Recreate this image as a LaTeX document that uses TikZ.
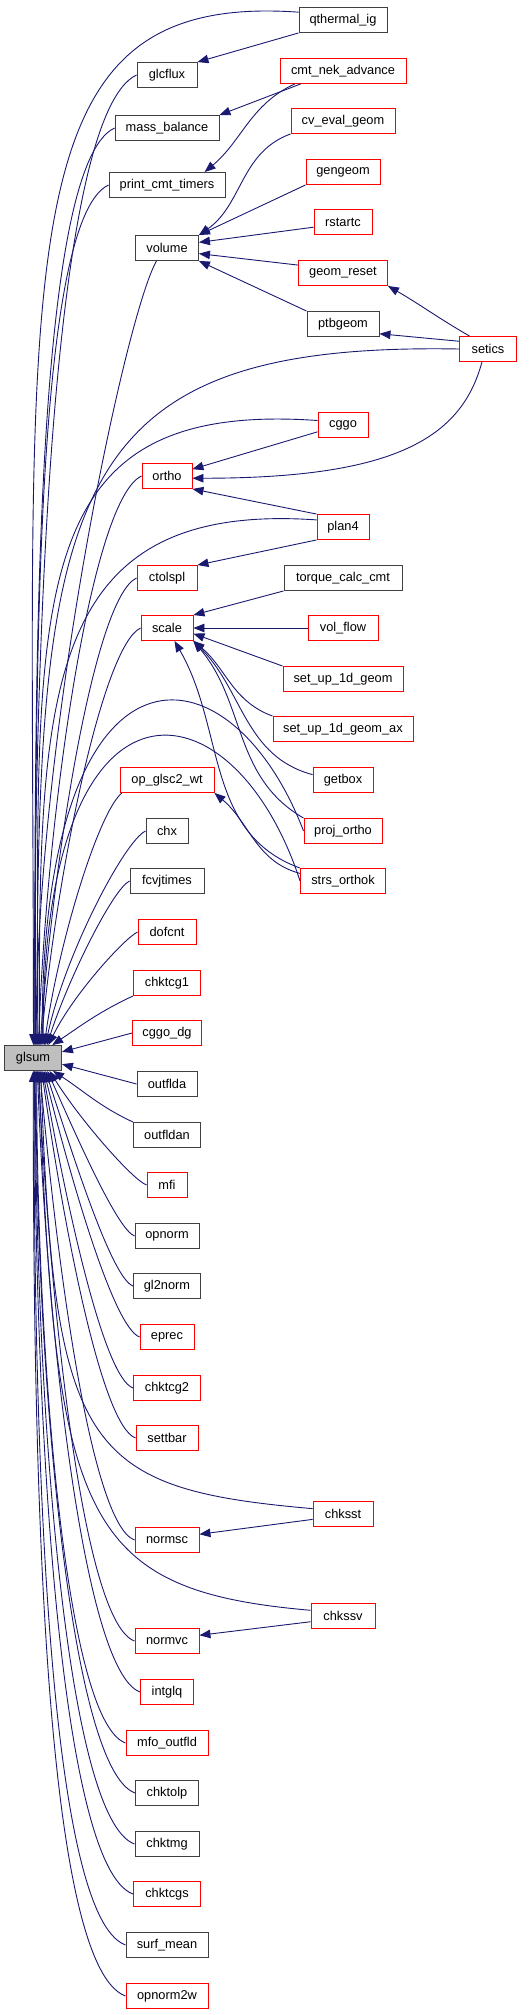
\documentclass[tikz,border=0pt]{standalone}
\usepackage{fontspec}
\setmainfont{Liberation Sans}
\usetikzlibrary{arrows.meta}

\definecolor{setablue}{HTML}{191970}
\definecolor{caixared}{HTML}{FF0000}
\definecolor{caixagray}{HTML}{404040}

\tikzset{
  fnbox/.style={draw=caixagray, fill=white, line width=0.9pt, minimum height=25pt,
    inner sep=0pt, font=\fontsize{12.8}{15}\selectfont},
  call/.style={setablue, line width=0.9pt, -{Triangle[length=11pt,width=8.5pt]}},
}

\begin{document}
\begin{tikzpicture}[x=1pt, y=-1pt]
  \useasboundingbox (0,0) rectangle (531,2015);

  % Funcao analisada
  \node[fnbox, fill=black!25, minimum width=57] (glsum) at (33,1058) {glsum};

  % Coluna da esquerda: nome / texto / y / largura / borda
  \foreach \n/\t/\y/\w/\c in {
    glcflux/glcflux/75/60/caixagray, massbal/mass\_balance/128/104/caixagray,
    printcmt/print\_cmt\_timers/185/116/caixagray, volume/volume/248/63/caixagray,
    ortho/ortho/476/50/caixared, ctolspl/ctolspl/578/60/caixared,
    scale/scale/628/52/caixared, opglsc/op\_glsc2\_wt/780/94/caixared,
    chx/chx/831/42/caixagray, fcvjtimes/fcvjtimes/881/74/caixagray,
    dofcnt/dofcnt/932/58/caixared, chktcga/chktcg1/983/67/caixared,
    cggodg/cggo\_dg/1033/69/caixared, outflda/outflda/1084/60/caixagray,
    outfldan/outfldan/1135/67/caixagray, mfi/mfi/1185/40/caixared,
    opnorm/opnorm/1236/64/caixagray, glnorm/gl2norm/1286/67/caixagray,
    eprec/eprec/1337/54/caixared, chktcgb/chktcg2/1388/67/caixared,
    settbar/settbar/1438/62/caixared, normsc/normsc/1540/64/caixared,
    normvc/normvc/1641/64/caixared, intglq/intglq/1692/53/caixared,
    mfooutfld/mfo\_outfld/1743/82/caixared, chktolp/chktolp/1793/63/caixagray,
    chktmg/chktmg/1844/64/caixagray, chktcgs/chktcgs/1894/67/caixared,
    surfmean/surf\_mean/1945/82/caixagray, opnormw/opnorm2w/1996/82/caixared} {
    \node[fnbox, draw=\c, minimum width=\w] (\n) at (167,\y) {\t};
  }

  % Coluna da direita
  \foreach \n/\t/\y/\w/\c in {
    qthermal/qthermal\_ig/20/88/caixagray, cmtnek/cmt\_nek\_advance/71/126/caixared,
    cveval/cv\_eval\_geom/121/104/caixared, gengeom/gengeom/172/74/caixared,
    rstartc/rstartc/222/58/caixared, geomreset/geom\_reset/273/89/caixared,
    ptbgeom/ptbgeom/324/72/caixagray, cggo/cggo/425/50/caixared,
    plan4/plan4/527/52/caixared, torque/torque\_calc\_cmt/578/118/caixagray,
    volflow/vol\_flow/628/70/caixared, setupgeom/set\_up\_1d\_geom/679/120/caixared,
    setupgeomax/set\_up\_1d\_geom\_ax/729/140/caixared, getbox/getbox/780/60/caixared,
    projortho/proj\_ortho/831/78/caixared, strsorthok/strs\_orthok/881/85/caixared,
    chksst/chksst/1514/60/caixared, chkssv/chkssv/1616/64/caixared} {
    \node[fnbox, draw=\c, minimum width=\w] (\n) at (343,\y) {\t};
  }
  \node[fnbox, draw=caixared, minimum width=57] (setics) at (488,349) {setics};

  % Chamadas a glsum que chegam por cima
  \foreach \n/\a/\i in {glcflux/85/90, massbal/82/90, printcmt/79/90, ortho/67/88,
    ctolspl/61/86, scale/58/85, chx/46/78, fcvjtimes/43/72, dofcnt/40/64} {
    \draw[call] (\n.west) to[out=205, in=\i, out looseness=0.25] (glsum.\a);
  }
  \draw[call] (volume.-129) to[out=240, in=90, out looseness=0.2] (glsum.76);
  \draw[call] (opglsc.-164) to[out=220, in=82, out looseness=0.3] (glsum.49);
  \draw[call] (chktcga.south west) to[out=205, in=34] (glsum.34);
  \draw[call] (cggodg.west) -- (glsum.12);
  \draw[call] (outflda.west) -- (glsum.-12);
  \draw[call] (outfldan.north west) to[out=155, in=-33] (glsum.-33);

  % Chamadas a glsum que chegam por baixo
  \foreach \n/\a/\i in {mfi/-38/-58, opnorm/-42/-66, glnorm/-46/-72, eprec/-50/-76,
    chktcgb/-53/-80, settbar/-56/-82, normsc/-62/-85, normvc/-68/-87, intglq/-71/-88,
    mfooutfld/-74/-90, chktolp/-77/-90, chktmg/-80/-90, chktcgs/-83/-90,
    surfmean/-86/-90, opnormw/-89/-90} {
    \draw[call] (\n.west) to[out=160, in=\i, out looseness=0.25] (glsum.\a);
  }

  % Chamadas vindas da coluna da direita
  \draw[call] (qthermal.170) .. controls +(176:300pt) and +(90:796pt) .. (glsum.88);
  \draw[call] (setics.west) .. controls +(179:400pt) and +(90:550pt) .. (glsum.73);
  \draw[call] (cggo.170) .. controls +(176:299pt) and +(90:446pt) .. (glsum.70);
  \draw[call] (plan4.165) .. controls +(176:278pt) and +(90:346pt) .. (glsum.64);
  \draw[call] (projortho.west) .. controls +(111:205pt) and +(90:426pt) .. (glsum.55);
  \draw[call] (strsorthok.west) .. controls +(108:212pt) and +(90:396pt) .. (glsum.52);
  \draw[call] (chksst.170) .. controls +(175:230pt) and +(-88:380pt) .. (glsum.-59);
  \draw[call] (chkssv.170) .. controls +(175:230pt) and +(-88:450pt) .. (glsum.-65);

  % Restantes chamadas
  \draw[call] (qthermal.south west) -- (glcflux.north east);
  \draw[call] (cmtnek.197) -- (massbal.north east);
  \draw[call] (cmtnek.195) to[out=205, in=40] (printcmt.19);
  \draw[call] (cveval.south west) to[out=200, in=35] (volume.north east);
  \draw[call] (gengeom.south west) -- (volume.north east);
  \draw[call] (rstartc.190) -- (volume.10);
  \draw[call] (geomreset.170) -- (volume.-10);
  \draw[call] (ptbgeom.north west) -- (volume.south east);
  \draw[call] (setics.145) to[out=150, in=-30] (geomreset.south east);
  \draw[call] (setics.165) -- (ptbgeom.-15);
  \draw[call] (setics.-115) .. controls +(-105:80pt) and +(0:200pt) .. (ortho.-5);
  \draw[call] (cggo.-165) -- (ortho.15);
  \draw[call] (plan4.north west) -- (ortho.south east);
  \draw[call] (plan4.south west) -- (ctolspl.north east);
  \draw[call] (torque.south west) -- (scale.north east);
  \draw[call] (volflow.west) -- (scale.east);
  \draw[call] (setupgeom.north west) -- (scale.-12);
  \draw[call] (setupgeomax.north west) to[out=160, in=-40] (scale.south east);
  \draw[call] (getbox.170) to[out=165, in=-45] (scale.south east);
  \draw[call] (projortho.north west) to[out=150, in=-50] (scale.south east);
  \draw[call] (strsorthok.north west) to[out=160, in=-60] (scale.-60);
  \draw[call] (strsorthok.170) to[out=165, in=-40] (opglsc.south east);
  \draw[call] (chksst.190) -- (normsc.10);
  \draw[call] (chkssv.190) -- (normvc.10);
\end{tikzpicture}
\end{document}
